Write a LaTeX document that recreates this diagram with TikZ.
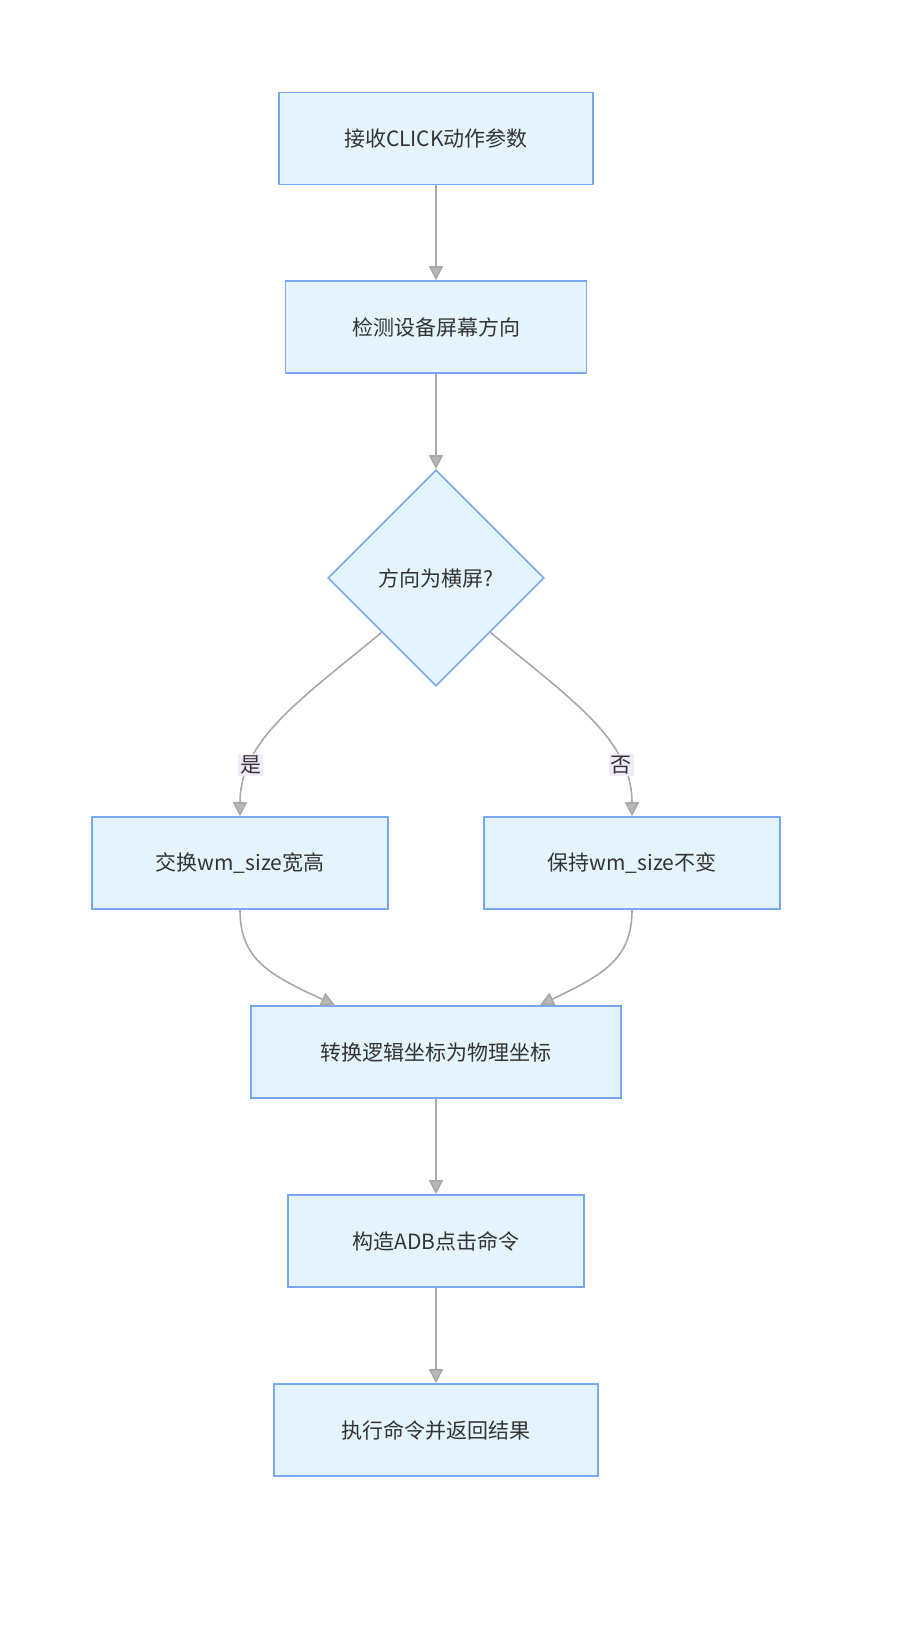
\documentclass[tikz,border=0pt]{standalone}
\usepackage{fontspec}
\setmainfont{Noto Sans CJK SC}
\usetikzlibrary{shapes.geometric,arrows.meta}
\definecolor{nfill}{HTML}{E3F4FC}
\definecolor{nline}{HTML}{7AA7F2}
\definecolor{eline}{HTML}{A8A8A8}
\definecolor{lbg}{HTML}{F3EAF9}
\begin{document}
\begin{tikzpicture}[x=0.5pt,y=-0.5pt,
  box/.style={draw=nline,fill=nfill,line width=0.8pt,minimum height=46pt,inner sep=0pt,font=\fontsize{10.5}{12}\selectfont,text=black!80},
  dia/.style={draw=nline,fill=nfill,line width=0.8pt,diamond,minimum width=108pt,minimum height=108pt,inner sep=0pt,font=\fontsize{10.5}{12}\selectfont,text=black!80},
  arr/.style={draw=eline,line width=0.8pt,-{Triangle[length=7pt,width=7pt,fill=eline!80!black!60]}},
  lab/.style={fill=lbg,inner sep=1pt,font=\fontsize{10.5}{12}\selectfont,text=black!80}]
\useasboundingbox (0,0) rectangle (906,1628);
\node[box,minimum width=157pt] (a) at (436,138.5) {接收CLICK动作参数};
\node[box,minimum width=150.5pt] (b) at (436,327) {检测设备屏幕方向};
\node[dia] (d) at (436,578) {方向为横屏?};
\node[box,minimum width=148pt] (c) at (240,863) {交换wm\_size宽高};
\node[box,minimum width=148pt] (k) at (632,863) {保持wm\_size不变};
\node[box,minimum width=185pt] (e) at (436,1052) {转换逻辑坐标为物理坐标};
\node[box,minimum width=148pt] (f) at (436,1241) {构造ADB点击命令};
\node[box,minimum width=162pt] (g) at (436,1430) {执行命令并返回结果};
\draw[arr] (a) -- (b);
\draw[arr] (b) -- (d);
\draw[arr] (d.south west) .. controls (300,700) and (240,740) .. node[lab,pos=0.75]{是} (c.north);
\draw[arr] (d.south east) .. controls (572,700) and (632,740) .. node[lab,pos=0.75]{否} (k.north);
\draw[arr] (c.south) .. controls (240,960) and (270,975) .. (e.north west -| 335,1006);
\draw[arr] (k.south) .. controls (632,960) and (602,975) .. (e.north west -| 540,1006);
\draw[arr] (e) -- (f);
\draw[arr] (f) -- (g);
\end{tikzpicture}
\end{document}
